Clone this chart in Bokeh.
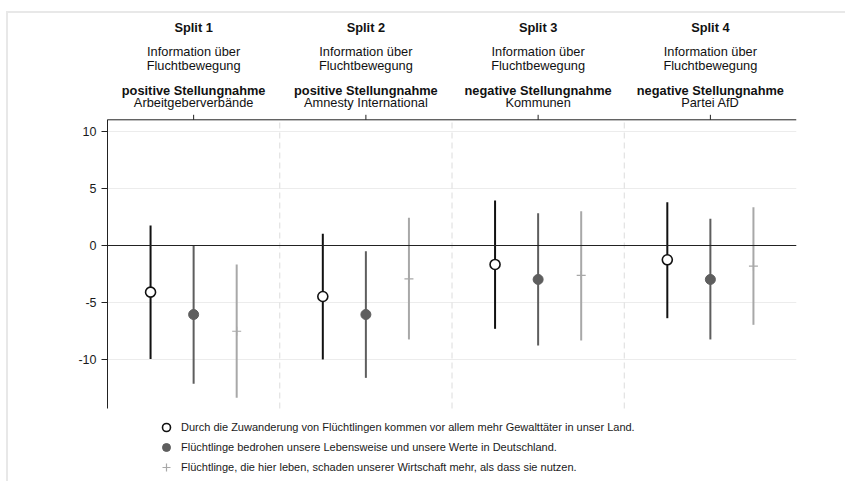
from bokeh.plotting import figure
from bokeh.models import Range1d, LinearAxis, FixedTicker, Span, Legend, LegendItem
from bokeh.core.properties import value
from bokeh.embed import file_html
from bokeh.resources import INLINE

splits = ["Split 1", "Split 2", "Split 3", "Split 4"]
info_line1 = ["Information über"] * 4
info_line2 = ["Fluchtbewegung"] * 4
stance = ["positive Stellungnahme", "positive Stellungnahme",
          "negative Stellungnahme", "negative Stellungnahme"]
actors = ["Arbeitgeberverbände", "Amnesty International", "Kommunen", "Partei AfD"]

series_labels = [
    "Durch die Zuwanderung von Flüchtlingen kommen vor allem mehr Gewalttäter in unser Land.",
    "Flüchtlinge bedrohen unsere Lebensweise und unsere Werte in Deutschland.",
    "Flüchtlinge, die hier leben, schaden unserer Wirtschaft mehr, als dass sie nutzen.",
]

est_gewalt = [-4.08, -4.46, -1.66, -1.25]
lo_gewalt = [-9.92, -9.97, -7.29, -6.36]
hi_gewalt = [1.75, 1.02, 3.94, 3.79]

est_werte = [-6.04, -6.04, -2.97, -2.97]
lo_werte = [-12.1, -11.58, -8.75, -8.22]
hi_werte = [0.0, -0.5, 2.83, 2.33]

est_wirt = [-7.5, -2.92, -2.62, -1.81]
lo_wirt = [-13.33, -8.22, -8.31, -6.94]
hi_wirt = [-1.66, 2.42, 3.0, 3.35]

y_ticks = [-10, -5, 0, 5, 10]
y_tick_labels = {-10: "-10", -5: "-5", 0: "0", 5: "5", 10: "10"}

FONT = "Liberation Sans"

# ---- layout geometry (page pixels) ----
OX, OY = 8, 13            # canvas origin on the page
W, H = 839, 470           # canvas size
FRAME_L, FRAME_R = 107, 796
ZERO_PX, PX_PER_UNIT = 245, 11.43
PLOT_TOP_PX, PLOT_BOT_PX = 119.3, 408


def yv(ypage):
    return (ZERO_PX - ypage) / PX_PER_UNIT


Y_TOP, Y_BOT = yv(PLOT_TOP_PX), yv(PLOT_BOT_PX)

p = figure(width=W, height=H, output_backend="svg", toolbar_location=None,
           x_range=Range1d(0.5, 4.5), y_range=Range1d(yv(OY + H), yv(OY)),
           x_axis_location=None, y_axis_location=None,
           min_border_left=FRAME_L - OX, min_border_right=OX + W - FRAME_R,
           min_border_top=0, min_border_bottom=0)
p.outline_line_color = None
p.xgrid.visible = False
p.ygrid.ticker = FixedTicker(ticks=y_ticks)
p.ygrid.grid_line_color = "#ececec"
p.ygrid.grid_line_width = 1

yax = LinearAxis(ticker=FixedTicker(ticks=y_ticks), bounds=(Y_BOT, Y_TOP))
yax.axis_line_color = "#222222"
yax.major_tick_line_color = "#222222"
yax.major_tick_out = 6
yax.major_tick_in = 0
yax.minor_tick_line_color = None
yax.major_label_overrides = y_tick_labels
yax.major_label_text_font = FONT
yax.major_label_text_font_size = "12.5px"
yax.major_label_text_color = "#1a1a1a"
yax.major_label_standoff = 5
p.add_layout(yax, "left")

xpos = [1, 2, 3, 4]

# top axis line with ticks at each split
p.segment(x0=[0.5], y0=[Y_TOP], x1=[4.5], y1=[Y_TOP], line_color="#222222", line_width=1)
tick_len = 5 / PX_PER_UNIT
p.segment(x0=xpos, y0=[Y_TOP] * 4, x1=xpos, y1=[Y_TOP + tick_len] * 4,
          line_color="#222222", line_width=1)

# zero line and separators
p.add_layout(Span(location=0, dimension="width", line_color="#222222", line_width=1))
seps = [1.5, 2.5, 3.5]
p.segment(x0=seps, y0=[Y_BOT] * 3, x1=seps, y1=[Y_TOP] * 3, line_color="#dcdcdc",
          line_width=1, line_dash="6 4")

off = 0.25
col_g, col_w, col_e = "#111111", "#5e5e5e", "#a8a8a8"

xg = [x - off for x in xpos]
xw = [x for x in xpos]
xe = [x + off for x in xpos]

p.segment(x0=xg, y0=lo_gewalt, x1=xg, y1=hi_gewalt, line_color=col_g, line_width=2)
p.segment(x0=xw, y0=lo_werte, x1=xw, y1=hi_werte, line_color=col_w, line_width=2)
p.segment(x0=xe, y0=lo_wirt, x1=xe, y1=hi_wirt, line_color=col_e, line_width=2)

r1 = p.scatter(x=xg, y=est_gewalt, marker="circle", size=10, fill_color="white",
               line_color=col_g, line_width=1.6)
r2 = p.scatter(x=xw, y=est_werte, marker="circle", size=10, fill_color=col_w,
               line_color=col_w)
r3 = p.scatter(x=xe, y=est_wirt, marker="cross", size=9, line_color=col_e,
               line_width=1.2)

# legend below the plot
LEG_LEFT_PX, LEG_BOTTOM_PX = 156, 477
legend = Legend(items=[LegendItem(label=series_labels[0], renderers=[r1]),
                       LegendItem(label=series_labels[1], renderers=[r2]),
                       LegendItem(label=series_labels[2], renderers=[r3])],
                location=(LEG_LEFT_PX - FRAME_L, OY + H - LEG_BOTTOM_PX),
                orientation="vertical")
legend.border_line_color = None
legend.background_fill_alpha = 0
legend.padding = 0
legend.margin = 0
legend.spacing = -1
legend.glyph_width = 20
legend.glyph_height = 20
legend.label_height = 20
legend.label_standoff = 5
legend.label_text_font = FONT
legend.label_text_font_size = "11px"
legend.label_text_color = "#1a1a1a"
legend.label_text_baseline = "middle"
p.add_layout(legend, "center")

# header texts above each split
header = [
    (splits, 27, "bold"),
    (info_line1, 51, "normal"),
    (info_line2, 64.5, "normal"),
    (stance, 89.5, "bold"),
    (actors, 102, "normal"),
]
for texts, ypg, style in header:
    p.text(x=xpos, y=[yv(ypg)] * 4, text=texts, text_align="center",
           text_baseline="middle", text_font=value(FONT),
           text_font_size="12.8px", text_font_style=style, text_color="#111111")

p.styles = {"border-top": "2px solid #e8e8e8", "border-left": "2px solid #e8e8e8",
            "margin-left": f"{OX - 2}px", "margin-top": f"{OY - 2}px"}

open("out.html", "w").write(file_html(p, INLINE))
